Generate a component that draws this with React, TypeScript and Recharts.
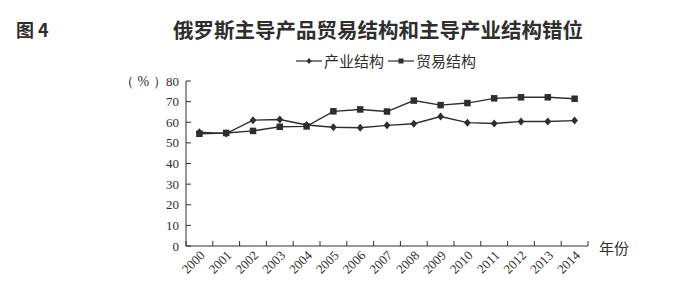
import { Legend, Line, LineChart, XAxis, YAxis } from "recharts";

const years = [
  "2000", "2001", "2002", "2003", "2004", "2005", "2006", "2007",
  "2008", "2009", "2010", "2011", "2012", "2013", "2014",
];
// 产业结构 (diamond)
const industry = [55.2, 54.5, 61, 61.3, 58.7, 57.6, 57.3, 58.5, 59.3, 62.8, 59.8, 59.4, 60.4, 60.4, 60.8];
// 贸易结构 (square)
const trade = [54.4, 54.8, 55.8, 57.8, 58, 65.3, 66.2, 65.2, 70.5, 68.3, 69.3, 71.6, 72.1, 72.1, 71.4];
const yTicks = [0, 10, 20, 30, 40, 50, 60, 70, 80];

const data = years.map((year, i) => ({ i, year, industry: industry[i], trade: trade[i] }));
// integer ticks carry the year labels, half steps carry the tick marks between bands
const xTicks = [-0.5, ...years.flatMap((_, i) => [i, i + 0.5])];

const ink = "#2e2e2e";
const serif = "'Liberation Serif', 'Times New Roman', serif";
const cjk = "'Noto Sans CJK SC', sans-serif";

function XTick(props: any) {
  const { x, y, payload } = props;
  const v = payload.value as number;
  if (Number.isInteger(v)) {
    const ax = x + 3;
    const ay = y + 7;
    return (
      <text
        x={ax}
        y={ay}
        transform={`rotate(-45 ${ax} ${ay})`}
        textAnchor="end"
        dominantBaseline="central"
        fontSize={13}
        fontFamily={serif}
        fill={ink}
      >
        {years[v]}
      </text>
    );
  }
  return <line x1={x} x2={x} y1={y} y2={y - 5} stroke={ink} strokeWidth={1} />;
}

function YTick(props: any) {
  const { x, y, payload } = props;
  return (
    <g>
      <line x1={x} x2={x + 5} y1={y} y2={y} stroke={ink} strokeWidth={1} />
      <text x={x - 7} y={y} textAnchor="end" dominantBaseline="central" fontSize={13} fontFamily={serif} fill={ink}>
        {payload.value}
      </text>
    </g>
  );
}

function Diamond({ cx, cy, r = 4 }: { cx: number; cy: number; r?: number }) {
  return (
    <polygon
      points={`${cx},${cy - r} ${cx + r * 0.85},${cy} ${cx},${cy + r} ${cx - r * 0.85},${cy}`}
      fill={ink}
    />
  );
}

function Square({ cx, cy, s = 6.5 }: { cx: number; cy: number; s?: number }) {
  return <rect x={cx - s / 2} y={cy - s / 2} width={s} height={s} fill={ink} />;
}

const diamondDot = (p: any) => <Diamond key={p.key ?? p.index} cx={p.cx} cy={p.cy} />;
const squareDot = (p: any) => <Square key={p.key ?? p.index} cx={p.cx} cy={p.cy} />;

function LegendBox() {
  const item = (label: string, marker: "d" | "s") => (
    <span style={{ display: "inline-flex", alignItems: "center", marginRight: 4 }}>
      <svg width={26} height={12} style={{ marginRight: 2 }}>
        <line x1={0} x2={26} y1={6} y2={6} stroke={ink} strokeWidth={1.2} />
        {marker === "d" ? <Diamond cx={13} cy={6} r={3} /> : <Square cx={13} cy={6} s={5} />}
      </svg>
      <span>{label}</span>
    </span>
  );
  return (
    <div style={{ display: "flex", fontFamily: cjk, fontSize: 15, color: ink, lineHeight: "18px" }}>
      {item("产业结构", "d")}
      {item("贸易结构", "s")}
    </div>
  );
}

export default function App() {
  return (
    <div style={{ position: "absolute", left: 0, top: 0, width: 686, height: 288, background: "#fff" }}>
      <div style={{ position: "absolute", left: 16, top: 16, fontFamily: cjk, fontWeight: 700, fontSize: 18, color: ink }}>
        图 4
      </div>
      <div
        style={{
          position: "absolute",
          left: 160,
          width: 436,
          top: 14,
          textAlign: "center",
          fontFamily: cjk,
          fontWeight: 700,
          fontSize: 20.5,
          color: ink,
          whiteSpace: "nowrap",
        }}
      >
        俄罗斯主导产品贸易结构和主导产业结构错位
      </div>
      <div style={{ position: "absolute", left: 120, top: 73, fontFamily: serif, fontSize: 14, color: ink, whiteSpace: "pre" }}>
        {"（ % ）"}
      </div>
      <div style={{ position: "absolute", left: 599, top: 237, fontFamily: cjk, fontSize: 15, color: ink }}>
        年份
      </div>
      <LineChart width={686} height={288} data={data} margin={{ top: 81, right: 98, bottom: 12, left: 146 }}>
        <XAxis
          dataKey="i"
          type="number"
          domain={[-0.5, years.length - 0.5]}
          ticks={xTicks}
          interval={0}
          tickLine={false}
          tickSize={0}
          tickMargin={0}
          height={30}
          tick={<XTick />}
          axisLine={{ stroke: ink, strokeWidth: 1 }}
        />
        <YAxis
          domain={[0, 80]}
          ticks={yTicks}
          interval={0}
          width={40}
          tickLine={false}
          tickSize={0}
          tickMargin={0}
          tick={<YTick />}
          axisLine={{ stroke: ink, strokeWidth: 1 }}
        />
        <Legend
          verticalAlign="middle"
          align="center"
          layout="horizontal"
          wrapperStyle={{ position: "absolute", top: 52, left: 296, width: "auto" }}
          content={() => <LegendBox />}
        />
        <Line
          dataKey="industry"
          name="产业结构"
          stroke={ink}
          strokeWidth={1.4}
          dot={diamondDot}
          isAnimationActive={false}
        />
        <Line
          dataKey="trade"
          name="贸易结构"
          stroke={ink}
          strokeWidth={1.4}
          dot={squareDot}
          isAnimationActive={false}
        />
      </LineChart>
    </div>
  );
}
